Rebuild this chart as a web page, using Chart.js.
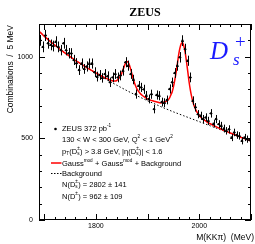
<!DOCTYPE html>
<html>
<head>
<meta charset="utf-8">
<script src="https://cdn.jsdelivr.net/npm/chart.js@4.4.1/dist/chart.umd.min.js"></script>
<style>
  html, body { margin: 0; padding: 0; background: #fff; }
  #c { display: block; }
</style>
</head>
<body>
<canvas id="c" width="255" height="244"></canvas>
<script>
/* ZEUS D_s -> KK pi mass spectrum */

// bin centres (MeV), entries per 5 MeV, stat. errors
const massBins = [1692.5, 1697.5, 1702.5, 1707.5, 1712.5, 1717.5, 1722.5, 1727.5, 1732.5, 1737.5,
    1742.5, 1747.5, 1752.5, 1757.5, 1762.5, 1767.5, 1772.5, 1777.5, 1782.5, 1787.5,
    1792.5, 1797.5, 1802.5, 1807.5, 1812.5, 1817.5, 1822.5, 1827.5, 1832.5, 1837.5,
    1842.5, 1847.5, 1852.5, 1857.5, 1862.5, 1867.5, 1872.5, 1877.5, 1882.5, 1887.5,
    1892.5, 1897.5, 1902.5, 1907.5, 1912.5, 1917.5, 1922.5, 1927.5, 1932.5, 1937.5,
    1942.5, 1947.5, 1952.5, 1957.5, 1962.5, 1967.5, 1972.5, 1977.5, 1982.5, 1987.5,
    1992.5, 1997.5, 2002.5, 2007.5, 2012.5, 2017.5, 2022.5, 2027.5, 2032.5, 2037.5,
    2042.5, 2047.5, 2052.5, 2057.5, 2062.5, 2067.5, 2072.5, 2077.5, 2082.5, 2087.5,
    2092.5, 2097.5];
const counts = [1100, 1060, 1130, 1082, 1072, 1065, 1092, 1060, 1040, 1082,
    1040, 1021, 1020, 980, 960, 918, 958, 925, 940, 958,
    958, 905, 878, 888, 870, 894, 880, 843, 873, 894,
    873, 885, 914, 966, 945, 894, 860, 771, 822, 812,
    800, 762, 741, 770, 679, 765, 761, 722, 718, 735,
    802, 843, 900, 945, 996, 1098, 1047, 975, 873, 730,
    690, 648, 638, 618, 628, 607, 653, 590, 618, 587,
    577, 560, 546, 556, 505, 536, 520, 515, 485, 505,
    495, 490];
const errors = [33, 33, 34, 33, 33, 33, 33, 33, 32, 33,
    32, 32, 32, 31, 31, 30, 31, 30, 31, 31,
    31, 30, 30, 30, 29, 30, 30, 29, 30, 30,
    30, 30, 30, 31, 31, 30, 29, 28, 29, 28,
    28, 28, 27, 28, 26, 28, 28, 27, 27, 27,
    28, 29, 30, 31, 32, 33, 32, 31, 30, 27,
    26, 25, 25, 25, 25, 25, 26, 24, 25, 24,
    24, 24, 23, 24, 22, 23, 23, 23, 22, 22,
    22, 22];
const binHalf = 2.5;

// fitted curve: Gauss^mod + Gauss^mod + background
const fitMass = [1690, 1695, 1700, 1705, 1710, 1715, 1720, 1725, 1730, 1735, 1740, 1745, 1750, 1755,
    1760, 1765, 1770, 1775, 1780, 1785, 1790, 1795, 1800, 1805, 1810, 1815, 1820, 1825, 1830, 1835,
    1840, 1842.5, 1845, 1847.5, 1850, 1852.5, 1855, 1857.5, 1860, 1862.5, 1865, 1867.5, 1870, 1872.5,
    1875, 1877.5, 1880, 1885, 1890, 1895, 1900, 1905, 1910, 1915, 1920, 1925, 1930, 1935, 1940,
    1942.5, 1945, 1947.5, 1950, 1952.5, 1955, 1957.5, 1960, 1962.5, 1965, 1967.5, 1970, 1972.5,
    1975, 1977.5, 1980, 1982.5, 1985, 1987.5, 1990, 1995, 2000, 2005, 2010, 2015, 2020, 2030,
    2040, 2050, 2060, 2070, 2080, 2090, 2100];
const fitValues = [1156, 1141, 1126, 1112, 1098, 1085, 1072, 1060, 1047, 1035, 1023, 1012, 1000, 989,
    978, 968, 958, 948, 938, 928, 919, 910, 900, 892, 883, 875, 867, 860, 854, 851,
    853, 861, 869, 882, 898, 921, 942, 962, 971, 965, 948, 921, 891, 862,
    836, 816, 800, 778, 762, 751, 742, 734, 730, 725, 721, 717, 720, 725, 736,
    747, 766, 784, 815, 855, 901, 953, 1010, 1052, 1079, 1087, 1066, 1030,
    975, 915, 851, 800, 758, 725, 699, 663, 640, 623, 611, 600, 591, 575,
    560, 546, 533, 520, 507, 496, 484];

// background only
const bgMass = [1690, 1700, 1710, 1720, 1730, 1740, 1750, 1760, 1770, 1780, 1790, 1800, 1810, 1820,
    1830, 1840, 1850, 1860, 1870, 1880, 1890, 1900, 1910, 1920, 1930, 1940, 1950, 1960, 1970,
    1980, 1990, 2000, 2010, 2020, 2030, 2040, 2050, 2060, 2070, 2080, 2090, 2100];
const bgValues = [1156, 1126, 1098, 1072, 1047, 1023, 1000, 978, 957, 937, 917, 898, 879, 861,
    843, 826, 809, 792, 776, 760, 745, 730, 716, 702, 688, 675, 662, 650, 638,
    626, 614, 602, 590, 578, 566, 554, 542, 530, 518, 506, 495, 484];

const xLabelTicks = [1800, 2000];
const yLabelTicks = [0, 500, 1000];

const SANS = '"Liberation Sans", Arial, sans-serif';
const SERIF = '"Liberation Serif", "Times New Roman", serif';

function pairs(xs, ys) {
    return xs.map(function (x, i) { return { x: x, y: ys[i] }; });
}

// draws text made of normal / super / subscript pieces, returns end x
function drawRich(ctx, x, y, parts, size) {
    ctx.textBaseline = 'middle';
    ctx.textAlign = 'left';
    parts.forEach(function (p) {
        if (typeof p === 'string') {
            ctx.font = size + 'px ' + SANS;
            ctx.fillText(p, x, y);
            x += ctx.measureText(p).width;
        } else {
            const small = size * 0.62;
            ctx.font = small + 'px ' + SANS;
            let w = 0;
            if (p.sup) {
                ctx.fillText(p.sup, x, y - size * 0.42);
                w = Math.max(w, ctx.measureText(p.sup).width);
            }
            if (p.sub) {
                ctx.fillText(p.sub, x, y + size * 0.32);
                w = Math.max(w, ctx.measureText(p.sub).width);
            }
            x += w + 0.3;
        }
    });
    return x;
}

const errorBars = {
    id: 'errorBars',
    afterDatasetsDraw: function (chart) {
        const ctx = chart.ctx;
        const xs = chart.scales.x, ys = chart.scales.y;
        ctx.save();
        ctx.strokeStyle = '#000';
        ctx.lineWidth = 1;
        massBins.forEach(function (m, i) {
            const px = Math.round(xs.getPixelForValue(m)) + 0.5;
            const py = ys.getPixelForValue(counts[i]);
            ctx.beginPath();
            ctx.moveTo(px, ys.getPixelForValue(counts[i] - errors[i]));
            ctx.lineTo(px, ys.getPixelForValue(counts[i] + errors[i]));
            ctx.moveTo(xs.getPixelForValue(m - binHalf), Math.round(py) + 0.5);
            ctx.lineTo(xs.getPixelForValue(m + binHalf), Math.round(py) + 0.5);
            ctx.stroke();
        });
        ctx.restore();
    }
};

const frameAndText = {
    id: 'frameAndText',
    afterDraw: function (chart) {
        const ctx = chart.ctx;
        const a = chart.chartArea;
        const xs = chart.scales.x, ys = chart.scales.y;
        ctx.save();
        ctx.strokeStyle = '#000';
        ctx.lineWidth = 1;
        ctx.strokeRect(Math.round(a.left) + 0.5, Math.round(a.top) + 0.5,
            Math.round(a.right - a.left) - 1, Math.round(a.bottom - a.top) - 1);

        // inward ticks on all four sides
        ctx.beginPath();
        for (let v = 1700; v <= 2100; v += 20) {
            const px = Math.round(xs.getPixelForValue(v)) + 0.5;
            const len = v % 100 === 0 ? 6 : 3;
            ctx.moveTo(px, a.bottom); ctx.lineTo(px, a.bottom - len);
            ctx.moveTo(px, a.top); ctx.lineTo(px, a.top + len);
        }
        for (let v = 0; v <= 1200; v += 100) {
            const py = Math.round(ys.getPixelForValue(v)) + 0.5;
            const len = v % 500 === 0 ? 6 : 3;
            ctx.moveTo(a.left, py); ctx.lineTo(a.left + len, py);
            ctx.moveTo(a.right, py); ctx.lineTo(a.right - len, py);
        }
        ctx.stroke();

        ctx.fillStyle = '#000';
        // title
        ctx.font = 'bold 12px ' + SERIF;
        ctx.textAlign = 'center';
        ctx.textBaseline = 'middle';
        ctx.fillText('ZEUS', 145, 13);

        // axis titles
        ctx.font = '8.5px ' + SANS;
        ctx.textAlign = 'right';
        ctx.fillText('M(KK\u03c0)  (MeV)', 254, 238);
        ctx.save();
        ctx.translate(11, 25);
        ctx.rotate(-Math.PI / 2);
        ctx.textAlign = 'right';
        ctx.fillText('Combinations  /  5 MeV', 0, 0);
        ctx.restore();

        // D_s^+ label
        ctx.fillStyle = '#1a1aff';
        ctx.textAlign = 'left';
        ctx.textBaseline = 'alphabetic';
        ctx.font = 'italic 25px ' + SERIF;
        ctx.fillText('D', 210, 59);
        ctx.font = 'italic 17px ' + SERIF;
        ctx.fillText('s', 233, 65);
        ctx.font = '19px ' + SERIF;
        ctx.fillText('+', 235, 48);

        // legend block
        ctx.fillStyle = '#000';
        const fs = 7.5, tx = 62;
        ctx.beginPath();
        ctx.arc(55.5, 129, 1.3, 0, 2 * Math.PI);
        ctx.fill();
        drawRich(ctx, tx, 129, ['ZEUS 372 pb', { sup: '-1' }], fs);
        drawRich(ctx, tx, 140, ['130 < W < 300 GeV, Q', { sup: '2' }, ' < 1 GeV', { sup: '2' }], fs);
        drawRich(ctx, tx, 151.5, ['p', { sub: 'T' }, '(D', { sub: 's', sup: '\u00b1' }, ') > 3.8 GeV, |\u03b7(D',
            { sub: 's', sup: '\u00b1' }, ')| < 1.6'], fs);
        ctx.strokeStyle = '#ff0000';
        ctx.lineWidth = 1.5;
        ctx.beginPath();
        ctx.moveTo(51, 163); ctx.lineTo(61.5, 163);
        ctx.stroke();
        drawRich(ctx, tx, 163.5, ['Gauss', { sup: 'mod' }, ' + Gauss', { sup: 'mod' }, ' + Background'], fs);
        ctx.strokeStyle = '#000';
        ctx.lineWidth = 1;
        ctx.setLineDash([1.5, 1.5]);
        ctx.beginPath();
        ctx.moveTo(51, 173.5); ctx.lineTo(61.5, 173.5);
        ctx.stroke();
        ctx.setLineDash([]);
        drawRich(ctx, tx, 174, ['Background'], fs);
        drawRich(ctx, tx, 184.5, ['N(D', { sub: 's', sup: '\u00b1' }, ') = 2802 \u00b1 141'], fs);
        drawRich(ctx, tx, 197, ['N(D', { sup: '\u00b1' }, ') = 962 \u00b1 109'], fs);
        ctx.restore();
    }
};

new Chart(document.getElementById('c'), {
    type: 'scatter',
    data: {
        datasets: [{
            label: 'ZEUS 372 pb-1',
            data: pairs(massBins, counts),
            pointRadius: 1.2,
            pointBackgroundColor: '#000',
            pointBorderWidth: 0,
            showLine: false,
            order: 0
        }, {
            label: 'fit',
            data: pairs(fitMass, fitValues),
            showLine: true,
            borderColor: '#ff0000',
            borderWidth: 1.5,
            pointRadius: 0,
            cubicInterpolationMode: 'monotone',
            order: 1
        }, {
            label: 'Background',
            data: pairs(bgMass, bgValues),
            showLine: true,
            borderColor: '#000',
            borderWidth: 1,
            borderDash: [1.5, 2],
            pointRadius: 0,
            cubicInterpolationMode: 'monotone',
            order: 2
        }]
    },
    options: {
        responsive: false,
        animation: false,
        events: [],
        layout: { padding: { top: 24, right: 1, left: 0, bottom: 0 } },
        plugins: { legend: { display: false }, tooltip: { enabled: false }, title: { display: false } },
        scales: {
            x: {
                type: 'linear',
                min: 1690,
                max: 2100,
                grid: { display: false, drawTicks: false, tickLength: 0 },
                border: { display: false },
                afterBuildTicks: function (s) { s.ticks = xLabelTicks.map(function (v) { return { value: v }; }); },
                afterFit: function (s) { s.height = 24; },
                ticks: {
                    color: '#000', font: { size: 7, family: SANS }, padding: 2, maxRotation: 0, autoSkip: false,
                    callback: function (v) { return String(v); }
                }
            },
            y: {
                min: 0,
                max: 1200,
                grid: { display: false, drawTicks: false, tickLength: 0 },
                border: { display: false },
                afterBuildTicks: function (s) { s.ticks = yLabelTicks.map(function (v) { return { value: v }; }); },
                afterFit: function (s) { s.width = 39; },
                ticks: {
                    color: '#000', font: { size: 7, family: SANS }, padding: 6,
                    callback: function (v) { return String(v); }
                }
            }
        }
    },
    plugins: [errorBars, frameAndText]
});
</script>
</body>
</html>
